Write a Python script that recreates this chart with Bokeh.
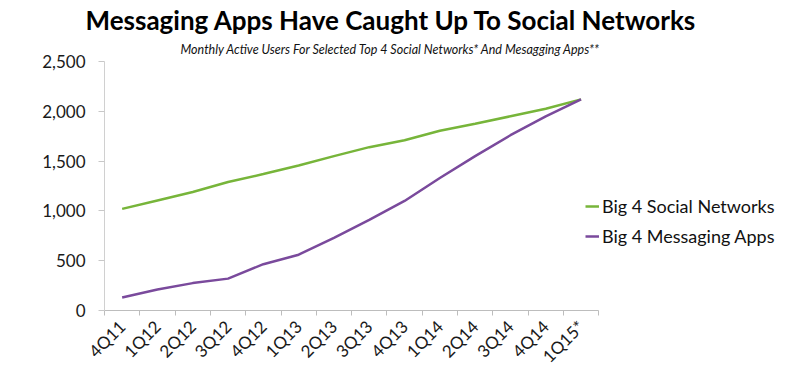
from bokeh.plotting import figure
from bokeh.models import (Range1d, FixedTicker, NumeralTickFormatter, Title,
                          Legend, LegendItem, ColumnDataSource)
from bokeh.embed import file_html
from bokeh.resources import INLINE
from math import pi

quarters = ["4Q11", "1Q12", "2Q12", "3Q12", "4Q12", "1Q13", "2Q13", "3Q13",
            "4Q13", "1Q14", "2Q14", "3Q14", "4Q14", "1Q15*"]
social = [1020, 1105, 1190, 1290, 1370, 1455, 1550, 1640, 1710, 1805, 1875, 1950, 2025, 2120]
messaging = [130, 210, 275, 320, 465, 560, 730, 910, 1100, 1330, 1550, 1760, 1950, 2120]
y_ticks = [0, 500, 1000, 1500, 2000, 2500]

title_text = "Messaging Apps Have Caught Up To Social Networks"
subtitle_text = "Monthly Active Users For Selected Top 4 Social Networks* And Mesagging Apps**"
series_names = ["Big 4 Social Networks", "Big 4 Messaging Apps"]

GREEN = "#77B53A"
PURPLE = "#7A4A9C"
FONT = "Lato"

# layout (pixels)
W, H = 784, 376
LEFT, TOP = 104, 61
BOTTOM = H - 311
CAT_W = 35.3  # pixel width of one quarter on the x axis
frame_w = W - LEFT - 4

xpos = [i + 0.5 for i in range(len(quarters))]
src = ColumnDataSource(dict(x=xpos, social=social, messaging=messaging))

p = figure(width=W, height=H, output_backend="svg", toolbar_location=None, title=None,
           x_range=Range1d(0, frame_w / CAT_W), y_range=Range1d(0, 2500),
           min_border_left=LEFT, min_border_right=4, min_border_top=TOP,
           min_border_bottom=BOTTOM)
p.outline_line_color = None
p.xgrid.grid_line_color = None
p.ygrid.grid_line_color = None
p.background_fill_color = "white"
p.border_fill_color = "white"

r1 = p.line("x", "social", source=src, line_color=GREEN, line_width=2.5)
r2 = p.line("x", "messaging", source=src, line_color=PURPLE, line_width=2.5)

# y axis
ya = p.yaxis[0]
ya.ticker = FixedTicker(ticks=y_ticks)
ya.formatter = NumeralTickFormatter(format="0,0")
ya.axis_line_color = "#D0D0D0"
ya.major_tick_line_color = "#C8C8C8"
ya.major_tick_out = 6
ya.major_tick_in = 0
ya.minor_tick_line_color = None
ya.major_label_standoff = 13
ya.major_label_text_font = FONT
ya.major_label_text_font_size = "17px"
ya.major_label_text_color = "#1a1a1a"

# x axis
xa = p.xaxis[0]
xa.bounds = (0, len(quarters))
xa.ticker = FixedTicker(ticks=xpos, minor_ticks=list(range(len(quarters) + 1)))
xa.major_label_overrides = {xp: q for xp, q in zip(xpos, quarters)}
xa.axis_line_color = "#BDBDBD"
xa.major_tick_line_color = None
xa.minor_tick_line_color = "#BDBDBD"
xa.minor_tick_out = 5
xa.minor_tick_in = 0
xa.major_label_orientation = pi / 4
xa.major_label_standoff = 7
xa.major_label_text_font = FONT
xa.major_label_text_font_size = "17px"
xa.major_label_text_color = "#1a1a1a"

# titles
sub = Title(text=subtitle_text, align="left", offset=76, standoff=9,
            text_font=FONT, text_font_style="italic", text_font_size="12.5px",
            text_color="#111111")
main = Title(text=title_text, align="left", offset=-19, standoff=0,
             text_font=FONT, text_font_style="bold", text_font_size="26px",
             text_color="black")
p.add_layout(sub, "above")
p.add_layout(main, "above")

legend = Legend(items=[LegendItem(label=series_names[0], renderers=[r1]),
                       LegendItem(label=series_names[1], renderers=[r2])],
                location=(481, 63), orientation="vertical")
legend.border_line_color = None
legend.background_fill_alpha = 0
legend.padding = 0
legend.margin = 0
legend.spacing = 8
legend.glyph_width = 14
legend.glyph_height = 20
legend.label_height = 20
legend.label_standoff = 3
legend.label_text_font = FONT
legend.label_text_font_size = "18px"
legend.label_text_color = "#111111"
p.add_layout(legend, "center")

open("out.html", "w").write(file_html(p, INLINE))
